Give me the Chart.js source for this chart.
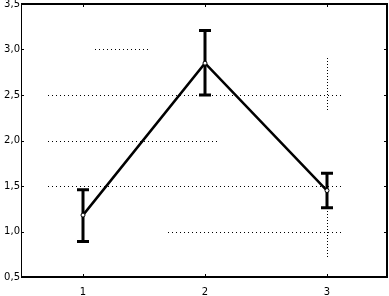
<!DOCTYPE html>
<html><head><meta charset="utf-8">
<script src="https://cdn.jsdelivr.net/npm/chart.js@4"></script>
<style>html,body{margin:0;padding:0;background:#fff;overflow:hidden}</style>
</head><body>
<canvas id="c" width="389" height="296"></canvas>
<script>
const categories = [1, 2, 3];
const means = [1.18, 2.85, 1.45];
const upper = [1.46, 3.21, 1.64];
const lower = [0.89, 2.50, 1.26];
const yTicks = [0.5, 1.0, 1.5, 2.0, 2.5, 3.0, 3.5];
// dotted reference segments (data units): [y, xStart, xEnd]
const hDots = [[3.0, 1.10, 1.53], [2.5, 0.71, 3.13], [2.0, 0.71, 2.11], [1.5, 0.71, 3.13], [1.0, 1.70, 3.13]];
// vertical dotted segments: [x, yStart, yEnd]
const vDots = [[3, 2.91, 2.33], [3, 1.26, 0.71]];

const deco = {
  id: 'deco',
  beforeDatasetsDraw(chart) {
    const ctx = chart.ctx, xs = chart.scales.x, ys = chart.scales.y;
    ctx.save();
    ctx.strokeStyle = '#000';
    ctx.lineWidth = 1;
    ctx.setLineDash([1, 3]);
    hDots.forEach(([y, a, b]) => {
      const py = Math.round(ys.getPixelForValue(y)) + 0.5;
      ctx.beginPath();
      ctx.moveTo(Math.round(xs.getPixelForValue(a)), py);
      ctx.lineTo(Math.round(xs.getPixelForValue(b)), py);
      ctx.stroke();
    });
    ctx.setLineDash([1, 2]);
    vDots.forEach(([x, a, b]) => {
      const px = Math.round(xs.getPixelForValue(x)) + 0.5;
      ctx.beginPath();
      ctx.moveTo(px, Math.round(ys.getPixelForValue(a)));
      ctx.lineTo(px, Math.round(ys.getPixelForValue(b)));
      ctx.stroke();
    });
    ctx.setLineDash([]);
    // error bars
    ctx.lineWidth = 3;
    categories.forEach((c, i) => {
      const px = xs.getPixelForValue(c);
      const pu = ys.getPixelForValue(upper[i]);
      const pl = ys.getPixelForValue(lower[i]);
      ctx.beginPath();
      ctx.moveTo(px, pu); ctx.lineTo(px, pl);
      ctx.moveTo(px - 6, pu); ctx.lineTo(px + 6, pu);
      ctx.moveTo(px - 6, pl); ctx.lineTo(px + 6, pl);
      ctx.stroke();
    });
    ctx.restore();
  },
  afterDraw(chart) {
    const ctx = chart.ctx, a = chart.chartArea, xs = chart.scales.x, ys = chart.scales.y;
    ctx.save();
    ctx.fillStyle = '#000';
    const L = Math.round(a.left), R = Math.round(a.right), T = Math.round(a.top), B = Math.round(a.bottom);
    ctx.fillRect(L - 1, T - 1, R - L + 1, 2);
    ctx.fillRect(L - 1, B - 1, R - L + 1, 2);
    ctx.fillRect(L - 1, T - 1, 1, B - T + 1);
    ctx.fillRect(R - 2, T - 1, 2, B - T + 1);
    categories.forEach(c => {
      const px = Math.round(xs.getPixelForValue(c));
      ctx.fillRect(px, T + 1, 1, 2);
      ctx.fillRect(px, B - 3, 1, 2);
    });
    yTicks.forEach(v => {
      const py = Math.round(ys.getPixelForValue(v));
      ctx.fillRect(L, py, 2, 1);
      ctx.fillRect(R - 4, py, 2, 1);
    });
    ctx.restore();
  }
};

new Chart(document.getElementById('c'), {
  type: 'scatter',
  data: {
    datasets: [{
      data: categories.map((c, i) => ({ x: c, y: means[i] })),
      showLine: true,
      borderColor: '#000',
      borderWidth: 2.5,
      pointRadius: 2,
      pointBackgroundColor: '#fff',
      pointBorderColor: '#000',
      pointBorderWidth: 1
    }]
  },
  options: {
    responsive: false,
    animation: false,
    devicePixelRatio: 1,
    layout: { autoPadding: false, padding: { top: 4, right: 1, left: 0, bottom: 0 } },
    plugins: { legend: { display: false }, tooltip: { enabled: false } },
    scales: {
      x: {
        type: 'linear', min: 0.5, max: 3.5,
        afterBuildTicks: s => { s.ticks = categories.map(v => ({ value: v })); },
        afterFit: s => { s.height = 19; s.paddingLeft = 0; s.paddingRight = 0; },
        grid: { display: false, drawTicks: false },
        border: { display: false },
        ticks: { color: '#000', padding: 9, maxRotation: 0, font: { family: 'DejaVu Sans', size: 10 }, callback: v => String(v) }
      },
      y: {
        min: 0.5, max: 3.5,
        afterBuildTicks: s => { s.ticks = yTicks.map(v => ({ value: v })); },
        afterFit: s => { s.width = 22; s.paddingTop = 0; s.paddingBottom = 0; },
        grid: { display: false, drawTicks: false },
        border: { display: false },
        ticks: { color: '#000', padding: 2, font: { family: 'DejaVu Sans', size: 10 }, callback: v => v.toFixed(1).replace('.', ',') }
      }
    }
  },
  plugins: [deco]
});
</script>
</body></html>
